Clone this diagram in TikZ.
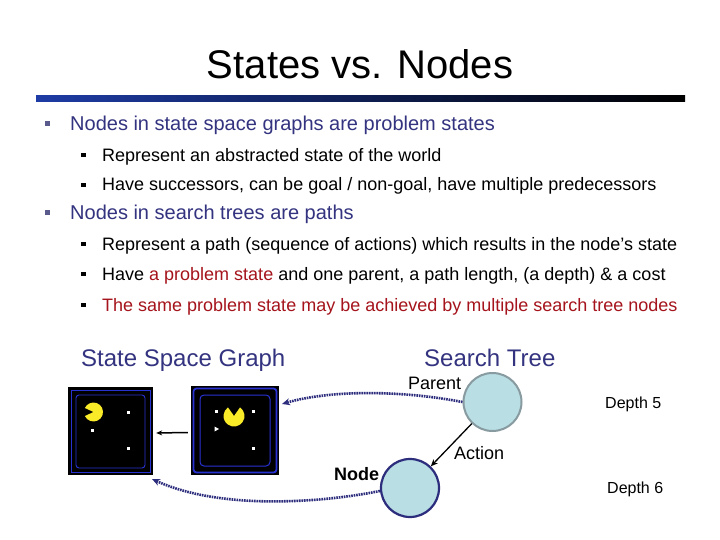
\documentclass[tikz,border=0pt]{standalone}
\usepackage{fontspec}
\setmainfont{Liberation Sans}
\usetikzlibrary{arrows.meta}
\definecolor{navy}{RGB}{51,51,128}
\definecolor{darkred}{RGB}{165,20,28}
\definecolor{bulletgrey}{RGB}{90,90,140}
\definecolor{circfill}{RGB}{185,222,228}
\definecolor{circgrey}{RGB}{135,155,160}
\definecolor{circnavy}{RGB}{45,45,125}
\definecolor{pacblue}{RGB}{40,50,210}
\definecolor{pacyellow}{RGB}{250,235,40}
\tikzset{
  txtA/.style={anchor=base west, inner sep=0pt, text=navy, font=\fontsize{20}{24}\selectfont},
  txtB/.style={anchor=base west, inner sep=0pt, text=black, font=\fontsize{18}{22}\selectfont},
  bulA/.style={fill=bulletgrey, minimum size=5pt, inner sep=0pt},
  bulB/.style={fill=black, minimum size=4.5pt, inner sep=0pt},
  headlbl/.style={anchor=base west, inner sep=0pt, text=navy, font=\fontsize{24}{28}\selectfont},
  smalllbl/.style={anchor=base west, inner sep=0pt, font=\fontsize{18}{22}\selectfont},
  depthlbl/.style={anchor=base west, inner sep=0pt, font=\fontsize{16}{20}\selectfont},
  tnode/.style={circle, fill=circfill, minimum size=58pt, inner sep=0pt},
  board/.style={fill=black, inner sep=0pt},
  pellet/.style={fill=white},
  dotarrow/.style={draw=circnavy, line width=2.6pt, dash pattern=on 1.6pt off 0.9pt, -{Stealth[length=8pt,width=7pt]}},
}
\begin{document}
\begin{tikzpicture}[x=1pt,y=-1pt]
\useasboundingbox (0,0) rectangle (720,540);
\fill[white] (0,0) rectangle (720,540);
% title
\node[anchor=base, inner sep=0pt, font=\fontsize{40}{48}\selectfont] (title) at (360,79) {States vs. Nodes};
\shade[left color={rgb,255:red,30;green,60;blue,165}, right color=black] (36,96) rectangle (685,102);
% bullets
\node[bulA] (b1) at (47.5,124) {};
\node[txtA] (t1) at (70,131) {Nodes in state space graphs are problem states};
\node[bulB] (b2) at (83.5,155) {};
\node[txtB] (t2) at (102,161.5) {Represent an abstracted state of the world};
\node[bulB] (b3) at (83.5,185) {};
\node[txtB] (t3) at (102,191) {Have successors, can be goal / non-goal, have multiple predecessors};
\node[bulA] (b4) at (47.5,213) {};
\node[txtA] (t4) at (70,220) {Nodes in search trees are paths};
\node[bulB] (b5) at (83.5,244) {};
\node[txtB] (t5) at (102,250) {Represent a path (sequence of actions) which results in the node’s state};
\node[bulB] (b6) at (83.5,274) {};
\node[txtB] (t6) at (102,280) {Have \textcolor{darkred}{a problem state} and one parent, a path length, (a depth) \& a cost};
\node[bulB] (b7) at (83.5,305) {};
\node[txtB, text=darkred] (t7) at (102,311) {The same problem state may be achieved by multiple search tree nodes};
% headings
\node[headlbl] (ssg) at (81,366) {State Space Graph};
\node[headlbl] (st) at (424,366) {Search Tree};
% boards
\node[board, minimum width=85pt, minimum height=88pt] (s1) at (110.5,431) {};
\draw[pacblue, line width=0.9pt] (71.5,390) rectangle (150,472);
\draw[pacblue, line width=0.9pt, rounded corners=3pt] (76,395) rectangle (145,468);
\fill[pacyellow] (93.5,412) -- +(155:9.5) arc[start angle=155, end angle=-155, radius=9.5] -- cycle;
\fill[pellet] (126.5,410.5) rectangle +(3.5,3.5);
\fill[pellet] (90.5,428.5) rectangle +(3.5,3.5);
\fill[pellet] (126.5,446.5) rectangle +(3.5,3.5);
\node[board, minimum width=88pt, minimum height=89pt] (s2) at (235,430.5) {};
\draw[pacblue, line width=1.8pt, rounded corners=3pt] (193.5,388.5) rectangle (276.5,472.5);
\draw[pacblue, line width=1pt, rounded corners=4pt] (200,395) rectangle (270,466);
\fill[pacyellow] (234,416) -- +(-55:10.5) arc[start angle=-55, end angle=235, radius=10.5] -- cycle;
\fill[pellet] (214.5,409.5) rectangle +(3.5,3.5);
\fill[pellet] (251.5,409.5) rectangle +(3.5,3.5);
\fill[pellet] (214.5,426.5) -- (219,429) -- (214.5,431.5) -- cycle;
\fill[pellet] (251.5,446.5) rectangle +(3.5,3.5);
\draw[line width=1.5pt, -{Stealth[length=6pt,width=5pt]}] (s2.west) ++(-3,2) coordinate (a0s) (a0s) -- ([xshift=3pt,yshift=-2pt]s1.east);
% search tree nodes
\node[tnode, draw=circgrey, line width=2pt] (parent) at (492.5,402) {};
\node[tnode, draw=circnavy, line width=2.2pt] (node) at (410,488) {};
\draw[line width=1.3pt, -{Stealth[length=7pt,width=6pt]}] (parent) -- (node);
\node[smalllbl] (plbl) at (408,389) {Parent};
\node[smalllbl] (albl) at (454,459) {Action};
\node[smalllbl, font=\fontsize{18}{22}\selectfont\bfseries] (nlbl) at (334,480) {Node};
\node[depthlbl] (d5) at (605,408) {Depth 5};
\node[depthlbl] (d6) at (607,493) {Depth 6};
% dotted arrows
\coordinate (e1) at (282,404);
\coordinate (e2) at (152,479);
\draw[dotarrow] (parent.west) .. controls (400,390) and (330,390) .. (e1);
\draw[dotarrow] ([yshift=-3pt]node.west) .. controls (320,503) and (220,510) .. (e2);
\end{tikzpicture}
\end{document}
